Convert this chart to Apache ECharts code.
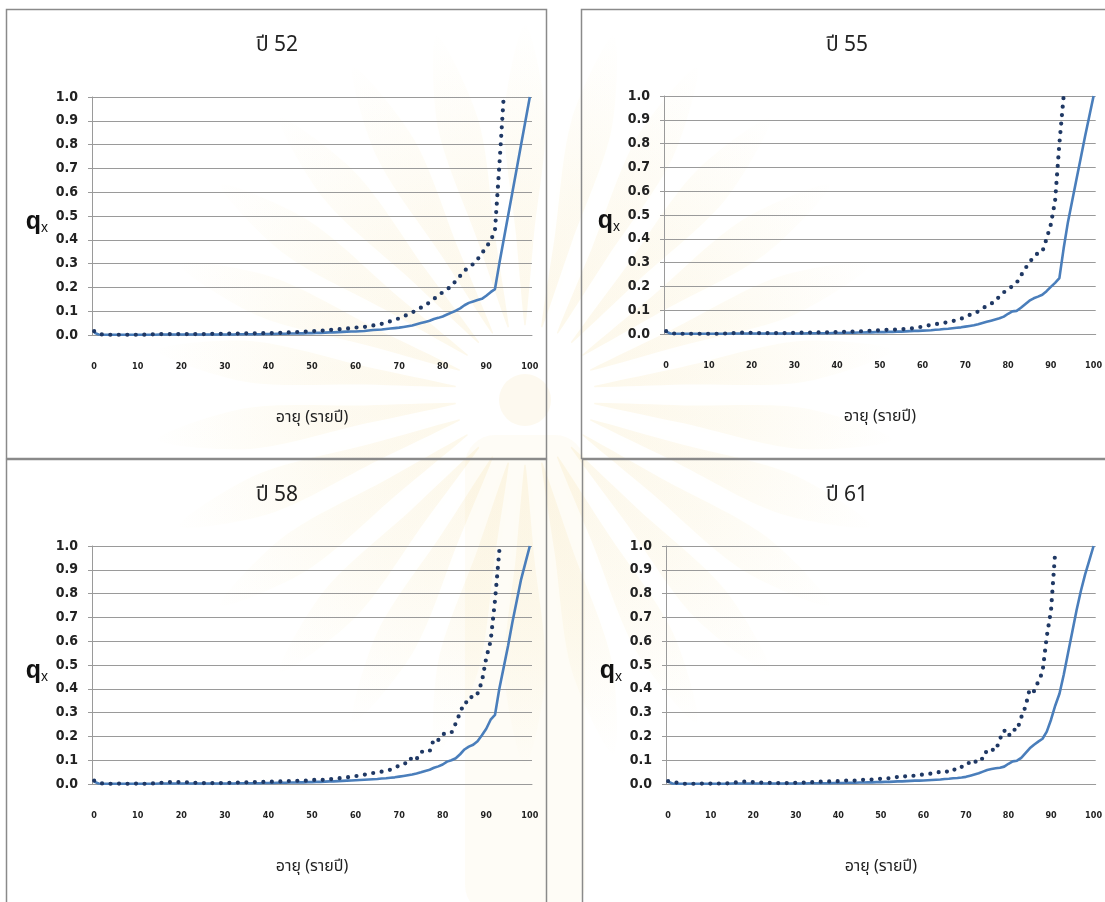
<!DOCTYPE html>
<html><head><meta charset="utf-8">
<script src="https://cdn.jsdelivr.net/npm/echarts@6/dist/echarts.min.js"></script>
<style>html,body{margin:0;padding:0;background:#fff}#c{width:1105px;height:902px}</style>
</head><body><div id="c"></div>
<script>
// Age categories 0..100
const ages = [];
for (let a = 0; a <= 100; a++) ages.push(String(a));

const titles = ['ปี 52', 'ปี 55', 'ปี 58', 'ปี 61'];
const xAxisName = 'อายุ (รายปี)';
const yTickLabels = ['0.0','0.1','0.2','0.3','0.4','0.5','0.6','0.7','0.8','0.9','1.0'];

const obs52 = [
 0.016,0.004,0.002,0.001,0.001,0.001,0.001,0.001,0.001,0.001,
 0.001,0.001,0.002,0.003,0.003,0.004,0.004,0.004,0.004,0.004,
 0.004,0.004,0.004,0.004,0.004,0.004,0.004,0.005,0.005,0.005,
 0.006,0.006,0.006,0.006,0.006,0.007,0.007,0.007,0.007,0.008,
 0.008,0.008,0.009,0.009,0.010,0.011,0.012,0.013,0.014,0.015,
 0.016,0.017,0.018,0.019,0.021,0.023,0.024,0.025,0.027,0.029,
 0.031,0.033,0.034,0.037,0.040,0.043,0.047,0.052,0.058,0.064,
 0.070,0.078,0.086,0.095,0.104,0.115,0.124,0.138,0.152,0.165,
 0.180,0.193,0.203,0.228,0.248,0.270,0.285,0.298,0.318,0.343,
 0.370,0.395,0.440,0.710,1.000];
const obs55 = [
 0.012,0.003,0.002,0.001,0.001,0.001,0.001,0.001,0.001,0.001,
 0.001,0.001,0.001,0.002,0.002,0.003,0.004,0.005,0.006,0.006,
 0.005,0.004,0.004,0.004,0.004,0.004,0.004,0.004,0.004,0.005,
 0.005,0.005,0.006,0.006,0.006,0.006,0.007,0.007,0.007,0.008,
 0.008,0.009,0.009,0.010,0.010,0.011,0.012,0.013,0.014,0.015,
 0.016,0.017,0.018,0.018,0.019,0.020,0.021,0.023,0.025,0.028,
 0.031,0.035,0.038,0.041,0.044,0.047,0.050,0.054,0.059,0.064,
 0.072,0.080,0.085,0.095,0.105,0.120,0.128,0.135,0.160,0.175,
 0.190,0.200,0.215,0.245,0.275,0.300,0.325,0.340,0.345,0.400,
 0.460,0.560,0.800,1.000];
const obs58 = [
 0.014,0.004,0.002,0.001,0.001,0.001,0.002,0.001,0.001,0.001,
 0.002,0.001,0.001,0.002,0.003,0.004,0.007,0.008,0.008,0.008,
 0.008,0.008,0.006,0.005,0.004,0.004,0.004,0.004,0.004,0.004,
 0.005,0.005,0.006,0.006,0.006,0.007,0.007,0.008,0.008,0.009,
 0.009,0.010,0.010,0.011,0.012,0.013,0.013,0.014,0.015,0.013,
 0.016,0.018,0.017,0.018,0.020,0.022,0.024,0.026,0.028,0.030,
 0.033,0.036,0.039,0.042,0.046,0.049,0.052,0.055,0.060,0.068,
 0.078,0.088,0.085,0.115,0.105,0.135,0.137,0.137,0.190,0.185,
 0.210,0.212,0.215,0.255,0.300,0.343,0.343,0.380,0.380,0.430,
 0.530,0.600,0.770,0.980];
const obs61 = [
 0.012,0.010,0.006,0.002,0.001,0.001,0.001,0.001,0.002,0.001,
 0.002,0.002,0.002,0.002,0.003,0.005,0.007,0.009,0.010,0.009,
 0.008,0.007,0.006,0.005,0.005,0.004,0.004,0.004,0.004,0.004,
 0.005,0.006,0.006,0.007,0.008,0.009,0.010,0.010,0.011,0.012,
 0.012,0.013,0.015,0.016,0.014,0.016,0.018,0.019,0.019,0.020,
 0.022,0.025,0.024,0.026,0.030,0.028,0.034,0.032,0.036,0.038,
 0.040,0.042,0.044,0.046,0.052,0.055,0.050,0.062,0.058,0.072,
 0.075,0.095,0.088,0.110,0.105,0.145,0.145,0.140,0.190,0.225,
 0.200,0.230,0.225,0.280,0.325,0.400,0.390,0.430,0.470,0.620,
 0.730,0.980];

// Model qx (solid line)
const model52 = [
 0.010,0.002,0.001,0.001,0.001,0.001,0.001,0.001,0.001,0.001,
 0.001,0.001,0.001,0.001,0.001,0.002,0.002,0.002,0.002,0.002,
 0.002,0.002,0.002,0.002,0.002,0.002,0.002,0.002,0.002,0.002,
 0.002,0.002,0.002,0.003,0.003,0.003,0.003,0.003,0.003,0.004,
 0.004,0.004,0.005,0.005,0.005,0.006,0.006,0.007,0.007,0.008,
 0.008,0.009,0.009,0.010,0.011,0.011,0.012,0.013,0.014,0.015,
 0.015,0.016,0.017,0.019,0.021,0.022,0.023,0.025,0.027,0.029,
 0.031,0.034,0.037,0.040,0.045,0.050,0.055,0.060,0.067,0.072,
 0.078,0.086,0.094,0.102,0.112,0.125,0.135,0.141,0.147,0.152,
 0.165,0.180,0.193,0.300,0.400,0.500,0.600,0.700,0.800,0.900,
 1.000];
const model55 = [
 0.010,0.002,0.001,0.001,0.001,0.001,0.001,0.001,0.001,0.001,
 0.001,0.001,0.001,0.001,0.001,0.002,0.002,0.002,0.002,0.002,
 0.002,0.002,0.002,0.002,0.002,0.002,0.002,0.002,0.002,0.002,
 0.002,0.002,0.002,0.003,0.003,0.003,0.003,0.003,0.003,0.004,
 0.004,0.004,0.005,0.005,0.005,0.006,0.006,0.007,0.007,0.008,
 0.008,0.008,0.009,0.009,0.010,0.010,0.011,0.012,0.013,0.013,
 0.014,0.015,0.016,0.018,0.019,0.021,0.022,0.024,0.026,0.028,
 0.031,0.034,0.037,0.041,0.046,0.051,0.056,0.061,0.066,0.073,
 0.085,0.095,0.097,0.110,0.125,0.140,0.150,0.157,0.165,0.180,
 0.198,0.215,0.235,0.360,0.470,0.560,0.650,0.740,0.830,0.915,
 1.000];
const model58 = [
 0.010,0.002,0.001,0.001,0.001,0.001,0.001,0.001,0.001,0.001,
 0.001,0.001,0.001,0.001,0.001,0.002,0.002,0.002,0.002,0.002,
 0.002,0.002,0.002,0.002,0.002,0.002,0.002,0.002,0.002,0.002,
 0.002,0.002,0.002,0.003,0.003,0.003,0.003,0.003,0.003,0.004,
 0.004,0.004,0.005,0.005,0.005,0.006,0.006,0.007,0.007,0.008,
 0.008,0.009,0.009,0.010,0.011,0.011,0.012,0.013,0.014,0.015,
 0.016,0.017,0.018,0.019,0.020,0.021,0.023,0.024,0.026,0.028,
 0.031,0.034,0.037,0.040,0.044,0.049,0.055,0.060,0.068,0.074,
 0.082,0.094,0.100,0.108,0.125,0.145,0.157,0.165,0.180,0.205,
 0.232,0.270,0.290,0.400,0.490,0.580,0.680,0.770,0.860,0.930,
 1.000];
const model61 = [
 0.010,0.002,0.001,0.001,0.001,0.001,0.001,0.001,0.001,0.001,
 0.001,0.001,0.001,0.001,0.001,0.002,0.002,0.002,0.002,0.002,
 0.002,0.002,0.002,0.002,0.002,0.002,0.002,0.002,0.002,0.002,
 0.002,0.002,0.002,0.003,0.003,0.003,0.003,0.003,0.003,0.004,
 0.004,0.004,0.005,0.005,0.005,0.006,0.006,0.007,0.007,0.008,
 0.008,0.009,0.009,0.010,0.011,0.011,0.012,0.013,0.014,0.014,
 0.015,0.016,0.017,0.018,0.019,0.021,0.022,0.024,0.025,0.027,
 0.030,0.035,0.040,0.045,0.052,0.059,0.063,0.066,0.068,0.073,
 0.085,0.095,0.098,0.110,0.130,0.150,0.165,0.178,0.190,0.220,
 0.270,0.330,0.380,0.460,0.550,0.640,0.730,0.810,0.880,0.940,
 1.000];

const obsSeries = [obs52, obs55, obs58, obs61];
const modelSeries = [model52, model55, model58, model61];

const numFont = "'DejaVu Sans Condensed','Liberation Sans Narrow','Liberation Sans',sans-serif";
const thaiFont = "'Noto Sans Thai','Noto Sans','DejaVu Sans',sans-serif";

const layout = [
  {grid:{left:92, top:97, width:440, height:238}, tx:277, ty:47, box:{x:6.5, y:9.5, w:540, h:449}},
  {grid:{left:664, top:96, width:437, height:238}, tx:847, ty:47, box:{x:581.5, y:9.5, w:540, h:449}},
  {grid:{left:92, top:546, width:440, height:238}, tx:277, ty:497, box:{x:6.5, y:459.5, w:540, h:460}},
  {grid:{left:666, top:546, width:434, height:238}, tx:847, ty:497, box:{x:582.5, y:459.5, w:540, h:460}}
];

// faint background watermark (sunburst) — decoration only
const wm = [];
const cx = 525, cy = 395;
const wmFill = new echarts.graphic.RadialGradient(cx, cy, 380, [
  {offset:0, color:'rgba(240,205,110,0.16)'},
  {offset:0.55, color:'rgba(240,210,120,0.09)'},
  {offset:1, color:'rgba(240,215,130,0)'}
], true);
const nRays = 26;
for (let k = 0; k < nRays; k++) {
  const th = (k + 0.5) * 2 * Math.PI / nRays;
  const pts = [];
  const prof = [[70,0.6],[160,3.2],[280,4.2],[370,0]];
  prof.forEach(([r, dw]) => { const a = th + dw*Math.PI/180; pts.push([cx + r*Math.cos(a), cy + r*Math.sin(a)]); });
  for (let j = prof.length - 2; j >= 0; j--) { const [r, dw] = prof[j]; const a = th - dw*Math.PI/180; pts.push([cx + r*Math.cos(a), cy + r*Math.sin(a)]); }
  wm.push({type:'polygon', shape:{points:pts, smooth:0.3}, style:{fill:wmFill, shadowBlur:12, shadowColor:'rgba(240,210,120,0.15)'}, z:-20, silent:true});
}
wm.push({type:'circle', shape:{cx:cx, cy:cy+5, r:26}, style:{fill:'rgba(238,205,120,0.12)'}, z:-20, silent:true});
wm.push({type:'rect', shape:{x:cx-60, y:cy+40, width:120, height:480, r:30}, style:{fill:'rgba(240,212,130,0.07)'}, z:-20, silent:true});

const grids = [], xAxes = [], yAxes = [], series = [], graphics = wm.slice();
layout.forEach((L, i) => {
  grids.push(Object.assign({containLabel:false}, L.grid));
  xAxes.push({
    type:'category', gridIndex:i, data:ages, boundaryGap:true,
    axisLine:{lineStyle:{color:'#9a9a9a', width:1}},
    axisTick:{show:false},
    axisLabel:{interval:9, fontSize:9, fontWeight:'bold', color:'#222', margin:27, fontFamily:numFont},
    splitLine:{show:false},
    name:xAxisName, nameLocation:'middle', nameGap:76,
    nameTextStyle:{fontSize:16, color:'#222', fontFamily:thaiFont}
  });
  yAxes.push({
    type:'value', gridIndex:i, min:0, max:1, interval:0.1,
    axisLine:{show:true, lineStyle:{color:'#9a9a9a'}},
    axisTick:{show:true, length:4, lineStyle:{color:'#9a9a9a'}},
    splitLine:{lineStyle:{color:'#9a9a9a', width:1}},
    axisLabel:{formatter:(v)=>yTickLabels[Math.round(v*10)], fontSize:14, fontWeight:'bold', color:'#222', margin:14, fontFamily:numFont},
    name:'{q|q}{x|x}', nameLocation:'middle', nameRotate:0, nameGap:44,
    nameTextStyle:{padding:[12,0,0,0], rich:{
      q:{fontSize:25, fontWeight:'bold', color:'#111', fontFamily:"'Liberation Sans',sans-serif", lineHeight:28},
      x:{fontSize:14, color:'#111', fontFamily:"'Liberation Sans',sans-serif", lineHeight:28, padding:[12,0,0,0]}
    }}
  });
  series.push({
    type:'line', xAxisIndex:i, yAxisIndex:i, data:modelSeries[i],
    symbol:'none', lineStyle:{color:'#4a7ebb', width:2.6}, z:2, silent:true
  });
  series.push({
    type:'line', xAxisIndex:i, yAxisIndex:i, data:obsSeries[i],
    symbol:'none', lineStyle:{color:'#1f3864', width:4.2, type:[0,8.5], cap:'round'}, z:3, silent:true
  });
  graphics.push({type:'rect', shape:{x:L.box.x, y:L.box.y, width:L.box.w, height:L.box.h},
    style:{fill:'none', stroke:'#8a8a8a', lineWidth:1.5}, z:-1});
  graphics.push({type:'text', x:L.tx, y:L.ty, style:{text:titles[i], fontSize:21, fill:'#222',
    fontFamily:thaiFont, textAlign:'center', textVerticalAlign:'middle'}});
});

const chart = echarts.init(document.getElementById('c'), null, {renderer:'canvas'});
chart.setOption({
  animation:false,
  backgroundColor:'#ffffff',
  grid:grids, xAxis:xAxes, yAxis:yAxes, series:series,
  graphic:graphics
});
</script></body></html>
